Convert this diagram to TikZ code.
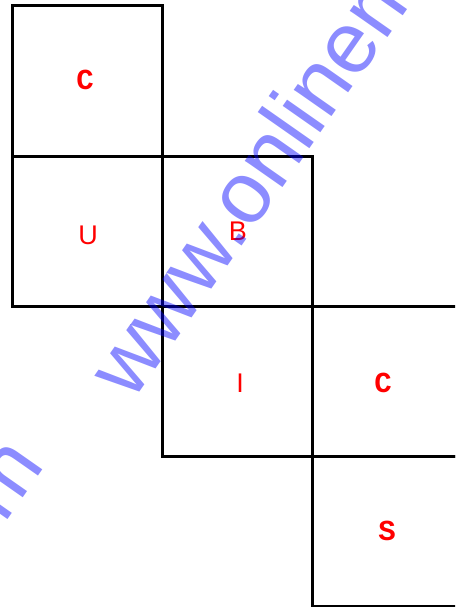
\documentclass[tikz,border=0pt]{standalone}
\usepackage{fontspec}
\setmainfont{Liberation Sans}
\newfontfamily\monofont{Liberation Mono}
\definecolor{wmark}{RGB}{0,0,255}
\tikzset{
  face/.style={draw=black,line width=3pt},
  tag/.style={text=red,font=\fontsize{27}{27}\selectfont,inner sep=0pt},
  montag/.style={text=red,font=\monofont\bfseries\fontsize{29}{29}\selectfont,inner sep=0pt},
  wm/.style={text=wmark,text opacity=0.45,font=\fontsize{87}{87}\selectfont,rotate=55,inner sep=0pt}
}
\begin{document}
\begin{tikzpicture}[x=1pt,y=-1pt]
\useasboundingbox (0,0) rectangle (455,607);
\clip (0,0) rectangle (455,607);
% faces of the net
\draw[face] (12,6) rectangle (162,156);
\draw[face] (12,156) rectangle (162,306);
\draw[face] (162,156) rectangle (312,306);
\draw[face] (162,306) rectangle (312,456);
\draw[face] (312,306) rectangle (470,456);
\draw[face] (312,456) rectangle (470,606);
% letters
\node[montag] (c1) at (85,80) {C};
\node[tag] (u) at (88,235) {U};
\node[tag] (b) at (238,231) {B};
\node[tag] (i) at (240,383) {I};
\node[montag] (c2) at (383,383) {C};
\node[montag] (s) at (387,531) {S};
% watermark
\node[wm,anchor=base west] (wm1) at (132,403) {www.onlinemath4all.com};
\node[wm,anchor=base east] (wm2) at (46,465) {www.onlinemath4all.com};
\end{tikzpicture}
\end{document}
